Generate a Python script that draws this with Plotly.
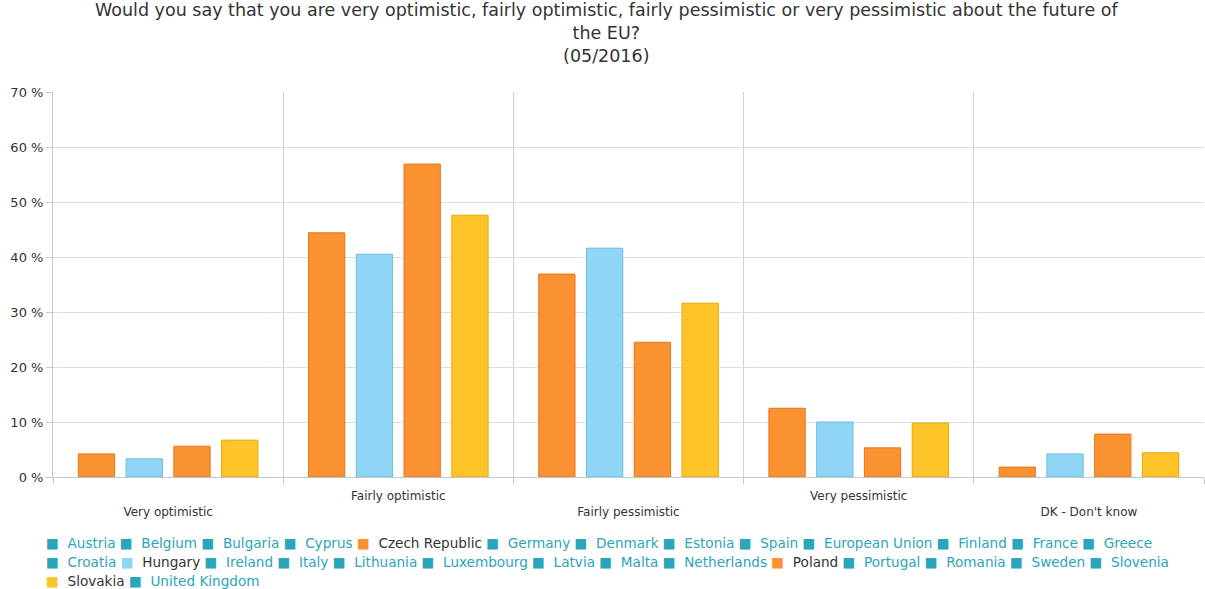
import plotly.graph_objects as go

categories = ["Very optimistic", "Fairly optimistic", "Fairly pessimistic", "Very pessimistic", "DK - Don't know"]
tick_labels = ["<br>Very optimistic", "Fairly optimistic", "<br>Fairly pessimistic", "Very pessimistic", "<br>DK - Don't know"]

czech = [4.2, 44.4, 36.9, 12.5, 1.8]
hungary = [3.3, 40.5, 41.6, 10.0, 4.2]
poland = [5.6, 56.9, 24.5, 5.3, 7.8]
slovakia = [6.7, 47.6, 31.6, 9.8, 4.4]

legend_rows = [
    ["Austria", "Belgium", "Bulgaria", "Cyprus", "Czech Republic", "Germany", "Denmark",
     "Estonia", "Spain", "European Union", "Finland", "France", "Greece"],
    ["Croatia", "Hungary", "Ireland", "Italy", "Lithuania", "Luxembourg", "Latvia", "Malta",
     "Netherlands", "Poland", "Portugal", "Romania", "Sweden", "Slovenia"],
    ["Slovakia", "United Kingdom"],
]

series = {
    "Czech Republic": (czech, "#fb9232", "#e5781b"),
    "Hungary": (hungary, "#8fd5f4", "#6fbcdb"),
    "Poland": (poland, "#fb9232", "#e5781b"),
    "Slovakia": (slovakia, "#ffc42a", "#e6a800"),
}

teal = "#2aa5b9"
dark = "#333333"
FONT = "DejaVu Sans, Liberation Sans, Arial, sans-serif"

fig = go.Figure()
for name, (vals, col, line) in series.items():
    fig.add_trace(go.Bar(
        x=categories, y=vals, name=name,
        marker=dict(color=col, line=dict(color=line, width=1)),
    ))

# legend rows drawn as rich text (keeps the compact wrapping of the original)
annotations = []
row_y = [543, 562, 581]
plot_top, plot_h = 92, 385
for r, row in enumerate(legend_rows):
    parts = []
    for name in row:
        if name in series:
            sym_col, txt_col = series[name][1], dark
        else:
            sym_col, txt_col = teal, teal
        parts.append(f"<span style='color:{sym_col}'>■</span>&nbsp;&nbsp;<span style='color:{txt_col}'>{name}</span>")
    annotations.append(dict(
        text="&nbsp;".join(parts), xref="paper", yref="paper",
        x=(44 - 53) / 1151, xanchor="left",
        y=1 - (row_y[r] - plot_top) / plot_h, yanchor="middle",
        showarrow=False, font=dict(size=13.6, family=FONT), align="left",
    ))

annotations.append(dict(
    text="Would you say that you are very optimistic, fairly optimistic, fairly pessimistic or very pessimistic about the future of<br>the EU?<br>(05/2016)",
    xref="paper", yref="paper", x=(606 - 53) / 1151, xanchor="center",
    y=1 + (plot_top - 33) / plot_h, yanchor="middle",
    showarrow=False, font=dict(size=17.5, color=dark, family=FONT), align="center",
))

fig.update_layout(
    width=1205, height=589,
    margin=dict(l=53, r=1, t=92, b=112),
    paper_bgcolor="white", plot_bgcolor="white",
    font=dict(family=FONT, color=dark),
    barmode="group", bargap=0.17, bargroupgap=0.24,
    showlegend=False,
    annotations=annotations,
    xaxis=dict(
        type="category", tickson="boundaries", showgrid=True, gridcolor="#c9d3dc", gridwidth=1,
        tickvals=categories, ticktext=tick_labels,
        ticks="outside", ticklen=6, tickcolor="#c0cad3", ticklabelstandoff=8,
        showline=True, linecolor="#c0cad3", linewidth=1,
        tickfont=dict(size=12, color=dark), range=[-0.5, 4.5],
    ),
    yaxis=dict(
        range=[0, 70], dtick=10, ticksuffix=" %", showgrid=True, gridcolor="#d8dfe6", gridwidth=1,
        ticks="outside", ticklen=6, tickcolor="#c0cad3",
        showline=True, linecolor="#c0cad3", linewidth=1,
        tickfont=dict(size=13, color=dark), zeroline=False,
    ),
)

fig.write_html("out.html")
